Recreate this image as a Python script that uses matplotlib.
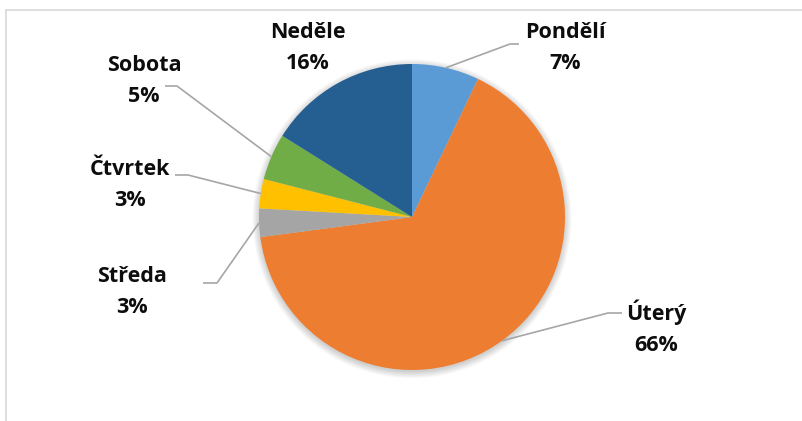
import numpy as np
import matplotlib
matplotlib.use("Agg")
import matplotlib.pyplot as plt
from matplotlib.patches import Circle
from matplotlib.lines import Line2D

# data
days = ["Pondělí", "Úterý", "Středa", "Čtvrtek", "Sobota", "Neděle"]
shares = [7.1, 65.8, 3.0, 3.1, 4.9, 16.1]
colors = ["#5B9BD5", "#ED7D31", "#A5A5A5", "#FFC000", "#70AD47", "#255E91"]

W, H = 803, 421
CX, CY, R = 412, 217, 153


def px(x, y):
    """pixel position -> pie data units"""
    return (x - CX) / R, (CY - y) / R


fig = plt.figure(figsize=(W / 100, H / 100), dpi=100)
ax = fig.add_axes([0, 0, 1, 1])

# chart frame (light grey, only top and left visible)
fig.add_artist(Line2D([6 / W, 6 / W], [0, 1 - 10 / H], color="#D9D9D9", lw=1.2))
fig.add_artist(Line2D([6 / W, 1], [1 - 10 / H, 1 - 10 / H], color="#D9D9D9", lw=1.2))

# soft shadow under the pie
for i in range(8):
    ax.add_patch(Circle((0, -0.012), 1.0 + 0.006 * i, color="black",
                        alpha=0.025, lw=0, zorder=0))

wedges, _ = ax.pie(shares, colors=colors, startangle=90, counterclock=False,
                   radius=1.0, wedgeprops=dict(linewidth=0))
for w in wedges:
    w.set_zorder(2)

ax.set_xlim(-CX / R, (W - CX) / R)
ax.set_ylim((CY - H) / R, CY / R)
ax.set_aspect("equal")
ax.axis("off")

# label placement: text centre, elbow of leader line, end of leader line (pixels)
label_pos = {
    "Pondělí": ((565, 48), (510, 44), (519, 44)),
    "Úterý": ((656, 328), (608, 313), (622, 313)),
    "Středa": ((132, 292), (217, 283), (203, 283)),
    "Čtvrtek": ((130, 185), (188, 175), (175, 175)),
    "Sobota": ((144, 81), (177, 86), (165, 86)),
    "Neděle": ((308, 48), None, None),
}

font = dict(family=["Open Sans", "DejaVu Sans"], fontsize=15.5, fontweight="bold",
            color="#0D0D0D")

for w, day, val in zip(wedges, days, shares):
    mid = np.deg2rad((w.theta1 + w.theta2) / 2)
    edge = (np.cos(mid), np.sin(mid))
    tpos, elbow, end = label_pos[day]
    if elbow is not None:
        ex, ey = px(*elbow)
        nx_, ny_ = px(*end)
        ax.plot([edge[0], ex, nx_], [edge[1], ey, ny_], color="#A6A6A6",
                lw=1.2, zorder=3, solid_capstyle="butt")
    tx, ty = px(*tpos)
    ax.text(tx, ty, f"{day}\n{round(val)}%", ha="center", va="center",
            linespacing=1.65, zorder=4, **font)

fig.savefig("out.png", dpi=100)
